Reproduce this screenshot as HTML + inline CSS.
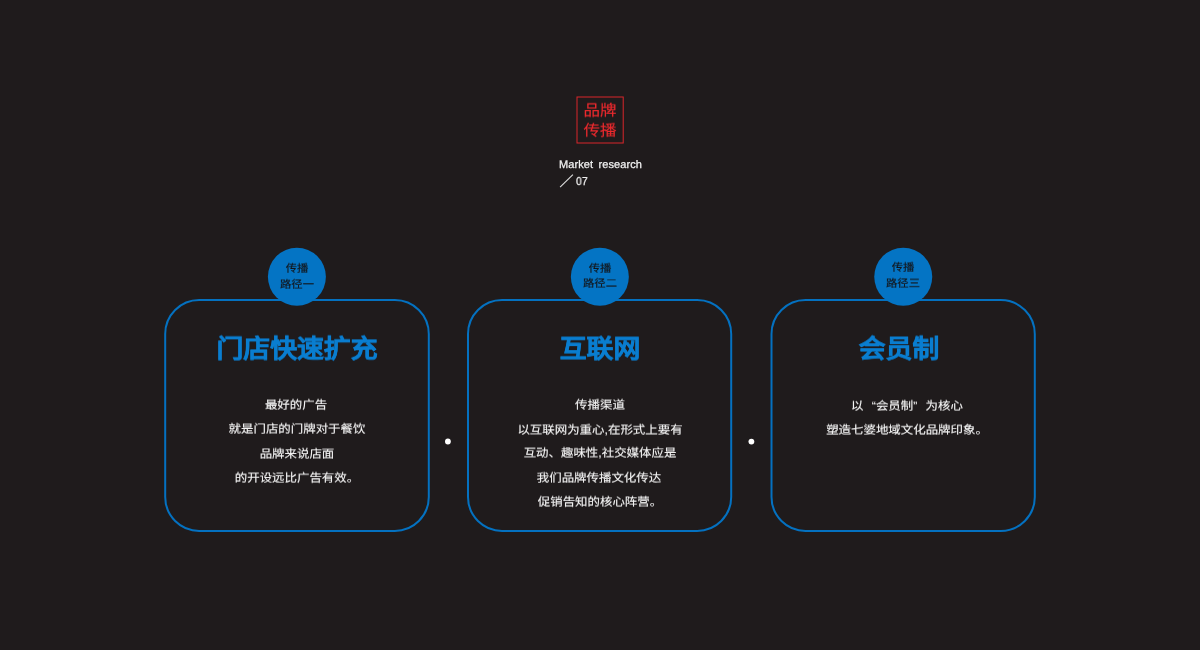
<!DOCTYPE html>
<html lang="zh-CN"><head><meta charset="utf-8">
<style>
html,body{margin:0;padding:0;}
body{width:1200px;height:650px;background:#1f1b1c;position:relative;overflow:hidden;font-family:"Liberation Sans",sans-serif;}
.a{position:absolute;white-space:nowrap;will-change:transform;text-rendering:geometricPrecision;}
.ln{width:300px;text-align:center;height:30px;line-height:30px;}
.t{color:#f8f8f8;font-size:12.45px;-webkit-text-stroke:0.12px #f8f8f8;transform:scaleY(0.925);}
.h{color:#0a7ed0;font-size:26.85px;font-weight:bold;-webkit-text-stroke:0.5px #0a7ed0;transform:scaleY(0.965);height:40px;line-height:40px;}
.c{color:#151112;font-size:11.3px;-webkit-text-stroke:0.15px #151112;transform:scaleY(0.92);}
.s{color:#ec2a2e;font-size:16.5px;-webkit-text-stroke:0.15px #ec2a2e;transform:scaleY(0.93);}
.q{display:inline-block;width:12.4px;}
</style></head><body>

<svg class="a" style="left:0;top:0;will-change:auto" width="1200" height="650">
<rect x="577" y="97" width="46.2" height="46" fill="none" stroke="#d9262b" stroke-width="1"/>
<line x1="560.1" y1="187.1" x2="572.9" y2="174.6" stroke="#e0e0e0" stroke-width="1.1"/>
<rect x="165.20" y="300.10" width="263.60" height="230.80" rx="34" ry="34" fill="none" stroke="#0471c0" stroke-width="2"/>
<rect x="468.00" y="300.10" width="263.20" height="230.80" rx="34" ry="34" fill="none" stroke="#0471c0" stroke-width="2"/>
<rect x="771.50" y="300.10" width="263.30" height="230.80" rx="34" ry="34" fill="none" stroke="#0471c0" stroke-width="2"/>
<circle cx="296.90" cy="276.80" r="29.00" fill="#0474c4"/>
<circle cx="599.85" cy="276.80" r="29.00" fill="#0474c4"/>
<circle cx="903.25" cy="276.80" r="29.00" fill="#0474c4"/>
<circle cx="447.9" cy="441.5" r="2.9" fill="#ffffff"/>
<circle cx="751.4" cy="441.6" r="2.9" fill="#ffffff"/>
</svg>
<div class="a ln s" style="left:449.99px;top:95.65px">品牌</div>
<div class="a ln s" style="left:449.87px;top:115.99px">传播</div>
<div class="a" style="left:558.60px;top:157.81px;color:#f2f2f2;font-size:11px;line-height:14px;word-spacing:2.4px;letter-spacing:0.07px;-webkit-text-stroke:0.25px #f2f2f2">Market research</div>
<div class="a" style="left:575.80px;top:174.73px;color:#f2f2f2;font-size:11.5px;line-height:14px;-webkit-text-stroke:0.25px #f2f2f2;transform:scaleX(0.9);transform-origin:0 0">07</div>
<div class="a ln c" style="left:146.74px;top:253.56px">传播</div>
<div class="a ln c" style="left:146.74px;top:269.67px">路径一</div>
<div class="a ln c" style="left:449.89px;top:253.56px">传播</div>
<div class="a ln c" style="left:449.91px;top:268.73px">路径二</div>
<div class="a ln c" style="left:753.30px;top:252.95px">传播</div>
<div class="a ln c" style="left:753.40px;top:268.70px">路径三</div>
<div class="a ln h" style="left:146.53px;top:328.89px">门店快速扩充</div>
<div class="a ln h" style="left:449.76px;top:328.57px">互联网</div>
<div class="a ln h" style="left:748.97px;top:328.74px">会员制</div>
<div class="a ln t" style="left:145.68px;top:389.71px">最好的广告</div>
<div class="a ln t" style="left:146.86px;top:413.58px">就是门店的门牌对于餐饮</div>
<div class="a ln t" style="left:146.61px;top:438.84px">品牌来说店面</div>
<div class="a ln t" style="left:146.87px;top:462.90px">的开设远比广告有效。</div>
<div class="a ln t" style="left:449.66px;top:389.70px">传播渠道</div>
<div class="a ln t" style="left:449.74px;top:414.62px">以互联网为重心,在形式上要有</div>
<div class="a ln t" style="left:449.75px;top:437.77px">互动、趣味性,社交媒体应是</div>
<div class="a ln t" style="left:448.50px;top:462.98px">我们品牌传播文化传达</div>
<div class="a ln t" style="left:449.71px;top:486.95px">促销告知的核心阵营。</div>
<div class="a ln t" style="left:756.80px;top:390.88px">以<span class="q" style="text-align:right">“</span>会员制<span class="q" style="text-align:left">”</span>为核心</div>
<div class="a ln t" style="left:756.63px;top:414.87px">塑造七婆地域文化品牌印象。</div>
</body></html>
